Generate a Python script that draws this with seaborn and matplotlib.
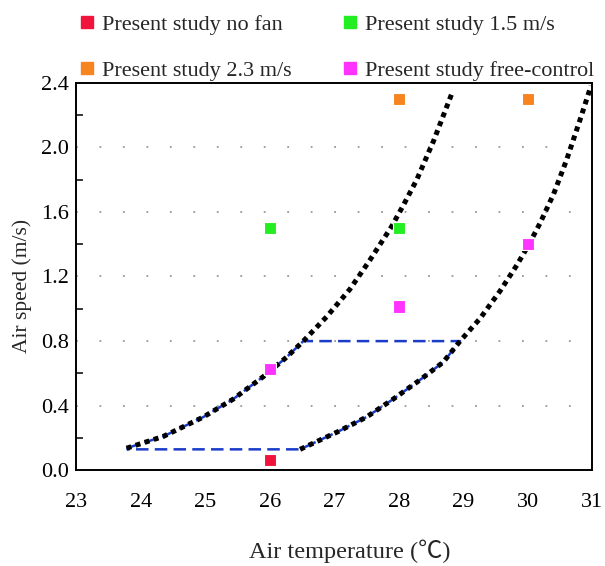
import matplotlib
matplotlib.use("Agg")
import matplotlib.pyplot as plt
import seaborn as sns
import pandas as pd
from matplotlib.lines import Line2D

# ---- data ----
series_names = ["Present study no fan", "Present study 1.5 m/s",
                "Present study 2.3 m/s", "Present study free-control"]
series_colors = ["#f0143c", "#22ee22", "#f7841f", "#ff33ff"]
pts_series = ["Present study no fan",
              "Present study 1.5 m/s", "Present study 1.5 m/s",
              "Present study 2.3 m/s", "Present study 2.3 m/s",
              "Present study free-control", "Present study free-control",
              "Present study free-control"]
pts_temp = [26, 26, 28, 28, 30, 26, 28, 30]
pts_speed = [0.065, 1.50, 1.50, 2.30, 2.30, 0.626, 1.013, 1.40]

# left boundary curve
left_T = [23.78, 24.35, 24.97, 25.43, 25.90, 26.26, 26.52, 26.88, 27.24,
          27.55, 27.89, 28.07, 28.28, 28.54, 28.82]
left_v = [0.137, 0.21, 0.33, 0.44, 0.58, 0.70, 0.80, 0.95, 1.12,
          1.30, 1.51, 1.64, 1.80, 2.04, 2.33]
# right boundary curve
right_T = [26.47, 27.06, 27.50, 27.91, 28.33, 28.69, 28.95, 29.26, 29.57,
           29.83, 30.02, 30.19, 30.40, 30.60, 30.81, 30.98]
right_v = [0.13, 0.24, 0.33, 0.44, 0.56, 0.67, 0.80, 0.94, 1.11,
           1.27, 1.40, 1.53, 1.71, 1.92, 2.17, 2.38]
# comfort zone (blue dashed) limits
zone_low = 0.13
zone_high = 0.80
zone_left_T = [23.78, 26.47]
zone_top_T = [26.52, 28.95]

xticks = [23, 24, 25, 26, 27, 28, 29, 30, 31]
yticks = [0.0, 0.4, 0.8, 1.2, 1.6, 2.0, 2.4]
xlabel = "Air temperature (\u2103)"
ylabel = "Air speed (m/s)"

# ---- plotting ----
sns.set_theme(style="white")
plt.rcParams["font.family"] = ["Liberation Serif", "DejaVu Serif"]

fig = plt.figure(figsize=(6.05, 5.66), dpi=100)
ax = fig.add_axes([0.126, 0.169, 0.853, 0.685])

blue = "#1a3cc8"
# blue dashed comfort-zone outline
zone_T = ([t for t in left_T if t <= 26.53] + [zone_top_T[1]] +
          [t for t in reversed(right_T) if t <= 28.96] + [zone_left_T[0]])
zone_v = ([v for t, v in zip(left_T, left_v) if t <= 26.53] + [zone_high] +
          [v for t, v in zip(reversed(right_T), reversed(right_v)) if t <= 28.96] + [zone_low])
zone_df = pd.DataFrame({"T": zone_T, "v": zone_v})
sns.lineplot(data=zone_df, x="T", y="v", sort=False, estimator=None, ax=ax,
             color=blue, lw=1.8, linestyle=(0, (5, 2.5)))

# black dotted boundary curves
for T, v in [(left_T, left_v), (right_T, right_v)]:
    sns.lineplot(x=T, y=v, sort=False, estimator=None, ax=ax,
                 color="black", lw=3.6, linestyle=(0, (1, 0.9)))

# markers
df = pd.DataFrame({"series": pts_series, "T": pts_temp, "v": pts_speed})
sns.scatterplot(data=df, x="T", y="v", hue="series", hue_order=series_names,
                palette=series_colors, marker="s", s=80, linewidth=0.8,
                edgecolor="white", ax=ax, legend=False, zorder=5)

ax.set_xlim(23, 31)
ax.set_ylim(0, 2.4)
ax.set_xticks(xticks)
ax.set_xticklabels([str(t) for t in xticks])
ax.set_yticks(yticks)
ax.set_yticklabels([f"{t:.1f}" for t in yticks])
ax.set_yticks([0.2, 0.6, 1.0, 1.4, 1.8, 2.2], minor=True)

for y in [0.4, 0.8, 1.2, 1.6, 2.0]:
    ax.axhline(y, color="#999999", lw=1.3, linestyle=(0, (1, 12)), zorder=0)

ax.tick_params(axis="both", which="major", direction="in", length=9.5, width=1.3,
               labelsize=16, colors="black")
ax.tick_params(axis="x", which="major", pad=16, top=False)
ax.tick_params(axis="y", which="major", pad=5, right=False)
ax.tick_params(axis="y", which="minor", direction="in", length=5, width=1.3, left=True)
for s in ax.spines.values():
    s.set_color("black")
    s.set_linewidth(1.4)

ax.set_xlabel(xlabel, fontsize=17.5, family=["Liberation Serif", "Noto Sans CJK SC"])
ax.set_ylabel(ylabel, fontsize=15.5)
ax.xaxis.set_label_coords(0.53, -0.178)
ax.yaxis.set_label_coords(-0.086, 0.475)

handles = [Line2D([0], [0], marker="s", linestyle="none", markersize=8,
                  markerfacecolor=c, markeredgecolor=c) for c in series_colors]
order = [0, 2, 1, 3]
fig.legend([handles[i] for i in order], [series_names[i] for i in order],
           ncol=2, loc="upper left", bbox_to_anchor=(0.103, 0.998), frameon=False,
           fontsize=16, handletextpad=0.2, columnspacing=2.1, labelspacing=1.15,
           handlelength=1.0, borderaxespad=0.2)

fig.savefig("out.png", dpi=100)
